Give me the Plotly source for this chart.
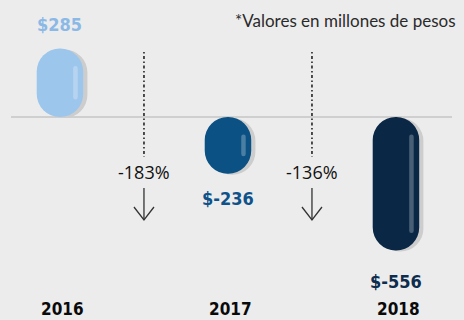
import plotly.graph_objects as go

# Resultado anual (millones de pesos)
years = ["2016", "2017", "2018"]
values = [285, -236, -556]
bar_colors = ["#9dc6ec", "#0b5184", "#0a2846"]
label_colors = ["#8bb9e6", "#0f5289", "#0d2c4e"]
note = "*Valores en millones de pesos"

BG = "#ececec"
W, H = 464, 320
X_RANGE = [-0.357, 2.405]
Y_RANGE = [-845.8, 487.5]
px_x = W / (X_RANGE[1] - X_RANGE[0])   # pixels per category unit
px_y = H / (Y_RANGE[1] - Y_RANGE[0])   # pixels per value unit


def y_at(py):
    """Value-axis coordinate of a pixel row measured from the top."""
    return Y_RANGE[1] - py / px_y


BAR_W = 46.5 / px_x
SHADOW_DX = 4.2 / px_x
SHADOW_DY = 1.0 / px_y
HL_DX = 15.5 / px_x
HL_W = 4.5 / px_x
HL_INSET = 17.5 / px_y

fig = go.Figure()


def capsule(x, lo, hi, width, color):
    """A based bar with fully rounded ends."""
    fig.add_trace(go.Bar(
        x=[x], base=[lo], y=[hi - lo], width=width,
        marker=dict(color=color, cornerradius="50%", line=dict(width=0)),
        hoverinfo="skip", showlegend=False))


for i, v in enumerate(values):
    lo, hi = min(0, v), max(0, v)
    # drop shadow
    capsule(i + SHADOW_DX, lo - SHADOW_DY, hi - SHADOW_DY, BAR_W, "#cdcdcd")
    # main capsule
    capsule(i, lo, hi, BAR_W, bar_colors[i])
    # glossy highlight
    capsule(i + HL_DX, lo + HL_INSET, hi - HL_INSET, HL_W, "rgba(255,255,255,0.26)")

cond_font = "Liberation Sans Narrow, DejaVu Sans Condensed, Roboto, sans-serif"
annotations = []
label_gap = [12, 12, 19]
for i, v in enumerate(values):
    annotations.append(dict(
        x=i, y=v, xref="x", yref="y", text=f"<b>${v}</b>", showarrow=False,
        yanchor="bottom" if v > 0 else "top",
        yshift=label_gap[i] if v > 0 else -label_gap[i],
        font=dict(family=cond_font, size=18, color=label_colors[i])))
    annotations.append(dict(
        x=i, y=1 - 309 / H, xref="x", yref="paper", text=f"<b>{years[i]}</b>",
        showarrow=False, xshift=3, yanchor="middle",
        font=dict(family=cond_font, size=17, color="#0a0a0a")))

shapes = [dict(type="line", xref="paper", yref="y", x0=11 / W, x1=452 / W, y0=0, y1=0,
               line=dict(color="#cfcfcf", width=2), layer="below")]

# down arrows between consecutive years
arrow_x, arrow_y = [], []
for i in range(len(values) - 1):
    change = (values[i + 1] - values[i]) / abs(values[i]) * 100
    xm = i + 0.5
    shapes.append(dict(type="line", xref="x", yref="paper", x0=xm, x1=xm,
                       y0=1 - 52 / H, y1=1 - 157 / H,
                       line=dict(color="#3a3a3a", width=1.8,
                                 dash="1.5px,2.5px,3px,2.5px")))
    annotations.append(dict(x=xm, y=1 - 172 / H, xref="x", yref="paper",
                            text=f"{round(change)}%", showarrow=False,
                            font=dict(family="Open Sans, Noto Sans, sans-serif",
                                      size=18, color="#111111")))
    half = 10 / px_x
    arrow_x += [xm, xm, None, xm - half, xm, xm + half, None]
    arrow_y += [y_at(188), y_at(220), None, y_at(207), y_at(220), y_at(207), None]

fig.add_trace(go.Scatter(x=arrow_x, y=arrow_y, mode="lines",
                         line=dict(color="#333333", width=1.3),
                         hoverinfo="skip", showlegend=False))

annotations.append(dict(x=458 / W, y=1 - 20 / H, xref="paper", yref="paper",
                        text=note, showarrow=False, xanchor="right", yanchor="middle",
                        font=dict(family="Lato, Open Sans, sans-serif", size=17,
                                  color="#2a2a2a")))

fig.update_layout(
    width=W, height=H, margin=dict(l=0, r=0, t=0, b=0),
    paper_bgcolor=BG, plot_bgcolor=BG, barmode="overlay",
    xaxis=dict(range=X_RANGE, visible=False, fixedrange=True),
    yaxis=dict(range=Y_RANGE, visible=False, fixedrange=True),
    shapes=shapes, annotations=annotations, hovermode=False,
)

fig.write_html("out.html", config={"displayModeBar": False})
